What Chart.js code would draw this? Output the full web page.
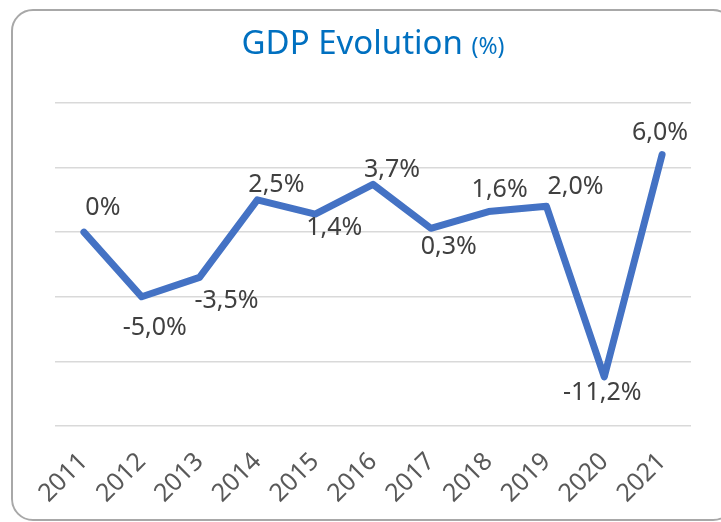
<!DOCTYPE html>
<html>
<head>
<meta charset="utf-8">
<script src="https://cdn.jsdelivr.net/npm/chart.js@4.4.1/dist/chart.umd.min.js"></script>
<style>
  html, body { margin: 0; padding: 0; background: #fff; overflow: hidden; }
  #wrap { position: relative; width: 721px; height: 522px; }
  #frame {
    position: absolute; left: 11px; top: 9px; width: 724px; height: 512px;
    border: 2px solid #a8a8a8; border-radius: 22px; box-sizing: border-box;
  }
  #title {
    position: absolute; left: 55px; width: 636px; top: 20px;
    text-align: center; font-family: "Noto Sans", sans-serif;
    font-size: 33px; line-height: 44px; color: #0070c0; white-space: nowrap;
  }
  #title small { font-size: 23px; }
  #bieudo { position: absolute; left: 0; top: 0; }
</style>
</head>
<body>
<div id="wrap">
  <div id="frame"></div>
  <canvas id="bieudo" width="721" height="522"></canvas>
  <div id="title">GDP Evolution <small>(%)</small></div>
</div>
<script>
const years = ['2011', '2012', '2013', '2014', '2015', '2016', '2017', '2018', '2019', '2020', '2021'];
const gdpGrowth = [0, -5.0, -3.5, 2.5, 1.4, 3.7, 0.3, 1.6, 2.0, -11.2, 6.0];
const yMin = -15;
const yMax = 10;
const yStep = 5;

// where each value label sits relative to its point (dx, dy)
const labelShift = [[19, -24], [13, 31], [27, 23], [19, -15], [19, 14], [19, -15],
                    [18, 19], [11, -22], [29, -19], [-2, 16], [-2, -22]];

function formatPct(v) {
    if (v === 0) return '0%';
    return v.toFixed(1).replace('.', ',') + '%';
}

const valueLabels = {
    id: 'valueLabels',
    afterDatasetsDraw(chart) {
        const ctx = chart.ctx;
        const meta = chart.getDatasetMeta(0);
        ctx.save();
        ctx.font = '25px "Noto Sans"';
        ctx.fillStyle = '#404040';
        ctx.textAlign = 'center';
        ctx.textBaseline = 'middle';
        meta.data.forEach((pt, i) => {
            const s = labelShift[i];
            ctx.fillText(formatPct(gdpGrowth[i]), pt.x + s[0], pt.y + s[1]);
        });
        ctx.restore();
    }
};

const bieudo = document.getElementById('bieudo');

new Chart(bieudo, {
    type: 'line',
    data: {
        labels: years,
        datasets: [{
            label: 'GDP',
            data: gdpGrowth,
            borderColor: '#4472c4',
            borderWidth: 7,
            borderCapStyle: 'round',
            borderJoinStyle: 'round',
            pointRadius: 0,
            tension: 0,
            fill: false
        }]
    },
    options: {
        responsive: false,
        animation: false,
        layout: {
            padding: { left: 55, right: 30, top: 103, bottom: 0 }
        },
        plugins: {
            legend: { display: false },
            tooltip: { enabled: false }
        },
        scales: {
            x: {
                offset: true,
                grid: { display: false },
                border: { display: false },
                ticks: {
                    autoSkip: false,
                    minRotation: 45,
                    maxRotation: 45,
                    padding: 13,
                    color: '#595959',
                    font: { family: 'Noto Sans', size: 25 }
                },
                afterFit(axis) { axis.height = 96; }
            },
            y: {
                min: yMin,
                max: yMax,
                ticks: { display: false, stepSize: yStep },
                border: { display: false },
                grid: { color: '#d9d9d9', lineWidth: 1.5, drawTicks: false },
                afterFit(axis) { axis.width = 0; }
            }
        }
    },
    plugins: [valueLabels]
});
</script>
</body>
</html>
